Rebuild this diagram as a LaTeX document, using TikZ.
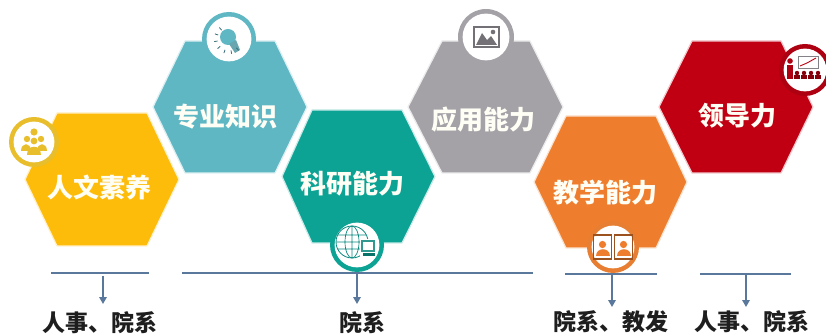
\documentclass[tikz,border=0pt]{standalone}
\usepackage{fontspec}
\setmainfont{Noto Sans CJK SC}
\usetikzlibrary{arrows.meta}
\definecolor{cyel}{HTML}{FDBB0A}
\definecolor{cyelr}{HTML}{E9BE2C}
\definecolor{cteal}{HTML}{5FB7C4}
\definecolor{cgreen}{HTML}{0CA395}
\definecolor{cgray}{HTML}{A4A2A7}
\definecolor{corange}{HTML}{EE7E2E}
\definecolor{cred}{HTML}{C00012}
\definecolor{cbar}{HTML}{5A789C}
\definecolor{ctxt}{HTML}{1E1E1E}
\tikzset{
  hexlabel/.style={text=white!96!yellow,font=\fontsize{26}{28}\selectfont\bfseries,inner sep=0pt},
  ownerlabel/.style={text=ctxt,font=\fontsize{23}{25}\selectfont\bfseries,inner sep=0pt},
  bar/.style={draw=cbar,line width=2pt},
  drop/.style={draw=cbar,line width=1.6pt,-{Triangle[length=7pt,width=7.5pt]}},
  hexrim/.style={line width=1.2pt,line join=round}
}
\newcommand{\hexa}[7]{% colour, left, tl, tr, right, top, bottom
  \fill[#1,draw=#1!22!white,hexrim] (#2,{(#6+#7)/2}) -- (#3,#6) -- (#4,#6) -- (#5,{(#6+#7)/2}) -- (#4,#7) -- (#3,#7) -- cycle;}
\newcommand{\badge}[5]{% name, colour, x, y, outer r
  \fill[#2] (#3,#4) circle[radius=#5];
  \fill[white] (#3,#4) circle[radius=#5-4.6];
  \coordinate (#1) at (#3,#4);}
\begin{document}
\begin{tikzpicture}[x=1pt,y=-1pt]
\useasboundingbox (0,0) rectangle (826,336);
% hexagons
\hexa{cteal}{153}{185}{275}{307}{41}{173}
\hexa{cyel}{25}{57}{147}{179}{113}{246}
\hexa{cgreen}{282}{312}{402}{435}{110}{243}
\hexa{cgray}{408}{442}{530}{563}{41}{173}
\hexa{corange}{534}{566}{656}{687}{116}{248}
\hexa{cred}{659}{692}{781}{813}{41}{173}
% bars
\coordinate (b1l) at (51,273); \coordinate (b1r) at (149,273);
\coordinate (b2l) at (182,273); \coordinate (b2r) at (533,273);
\coordinate (b3l) at (565,274); \coordinate (b3r) at (657,274);
\coordinate (b4l) at (700,274); \coordinate (b4r) at (791,274);
% badges
\badge{iy}{cyelr}{34}{142}{25}
\badge{it}{cteal}{229}{39}{27}
\badge{ig}{cgray}{486}{37}{28}
\badge{ic}{cgreen}{357}{245}{27}
\badge{io}{corange!85!brown}{613}{247}{26}
\badge{ir}{cred!90!black}{805}{70}{26}
% people icon
\begin{scope}[shift={(iy)}]
  \fill[cyelr] (0,-10) circle[radius=3.6];
  \fill[cyelr] (-7,-3) circle[radius=3.2] (7,-3) circle[radius=3.2] (0,-1) circle[radius=3.4];
  \fill[cyelr] (-13,9) .. controls (-13,0) and (-3,0) .. (-3,9) -- cycle;
  \fill[cyelr] (13,9) .. controls (13,0) and (3,0) .. (3,9) -- cycle;
  \fill[cyelr] (-7,13) .. controls (-7,2) and (7,2) .. (7,13) -- cycle;
\end{scope}
% bulb icon
\begin{scope}[shift={(it)}]
  \fill[cteal] (-1,-2) circle[radius=8];
  \fill[cteal!70!gray] (0,5) -- (7,1) -- (11,11) -- (6,14) -- cycle;
  \foreach \a in {110,140,170,200,230,80,50}
    \draw[cteal!60!black,line width=0.8pt] (\a:11.5) -- (\a:15);
\end{scope}
% picture icon
\begin{scope}[shift={(ig)}]
  \draw[cgray!70!black,line width=1.3pt] (-12,-10) rectangle (13,10);
  \fill[cgray!70!black] (-10,8) -- (-4,-4) -- (1,3) -- (5,-1) -- (11,8) -- cycle;
  \fill[cgray!70!black] (7,-5) circle[radius=2.3];
\end{scope}
% globe and monitor icon
\begin{scope}[shift={(ic)}]
  \draw[cgreen!85!black,line width=0.8pt] (-5,-3) circle[radius=16];
  \draw[cgreen!85!black,line width=0.7pt] (-5,-3) ellipse[x radius=7,y radius=16] (-5,-19) -- (-5,13) (-21,-3) -- (11,-3) (-19,-10) -- (9,-10) (-19,4) -- (9,4);
  \fill[white] (3,-6) rectangle (19,12);
  \fill[cgreen!70!gray] (4,-5) rectangle (18,7);
  \fill[white] (6,-3) rectangle (16,5);
  \fill[cgreen!70!black] (6,8.5) rectangle (18,11);
\end{scope}
% cards icon
\begin{scope}[shift={(io)}]
  \foreach \s in {-10.5,10.5}{
    \draw[corange!65!black,line width=1.1pt] (\s-9,-12) rectangle (\s+9,12);
    \fill[corange] (\s,-2.5) circle[radius=3.6];
    \fill[corange] (\s-7,9) .. controls (\s-7,0) and (\s+7,0) .. (\s+7,9) -- cycle;
  }
\end{scope}
% presenter icon
\begin{scope}[shift={(ir)}]
  \fill[cred!90!black] (-15,-9) circle[radius=2.8];
  \fill[cred!90!black] (-18,-5) rectangle (-12,9);
  \draw[cgray!80!black,line width=0.9pt] (-7,-14) rectangle (13,-2);
  \draw[cred,line width=0.9pt] (-5,-4) -- (2,-7) -- (11,-12);
  \foreach \q in {-8,-1,6,13}{
    \fill[cred!70!black] (\q,3) circle[radius=2.2];
    \fill[cred!70!black] (\q-3,5) rectangle (\q+3,9);
  }
\end{scope}
% hexagon labels
\node[hexlabel] (n1) at (99,188) {人文素养};
\node[hexlabel] (n2) at (225,117) {专业知识};
\node[hexlabel] (n3) at (352,184) {科研能力};
\node[hexlabel] (n4) at (483,120) {应用能力};
\node[hexlabel] (n5) at (605,193) {教学能力};
\node[hexlabel] (n6) at (737,116) {领导力};
% owner labels
\node[ownerlabel] (o1) at (100,323) {人事、院系};
\node[ownerlabel] (o2) at (362,323) {院系};
\node[ownerlabel] (o3) at (611,322) {院系、教发};
\node[ownerlabel] (o4) at (752,322) {人事、院系};
\coordinate (a1) at (103,304); \coordinate (a2) at (357,304);
\coordinate (a3) at (612,307); \coordinate (a4) at (746,307);
\draw[bar] (b1l) -- (b1r);
\draw[bar] (b2l) -- (b2r);
\draw[bar] (b3l) -- (b3r);
\draw[bar] (b4l) -- (b4r);
\draw[drop] (103,276) -- (a1);
\draw[drop] (a2 |- b2l) -- (a2);
\draw[drop] (a3 |- b3l) -- (a3);
\draw[drop] (a4 |- b4l) -- (a4);
\end{tikzpicture}
\end{document}
